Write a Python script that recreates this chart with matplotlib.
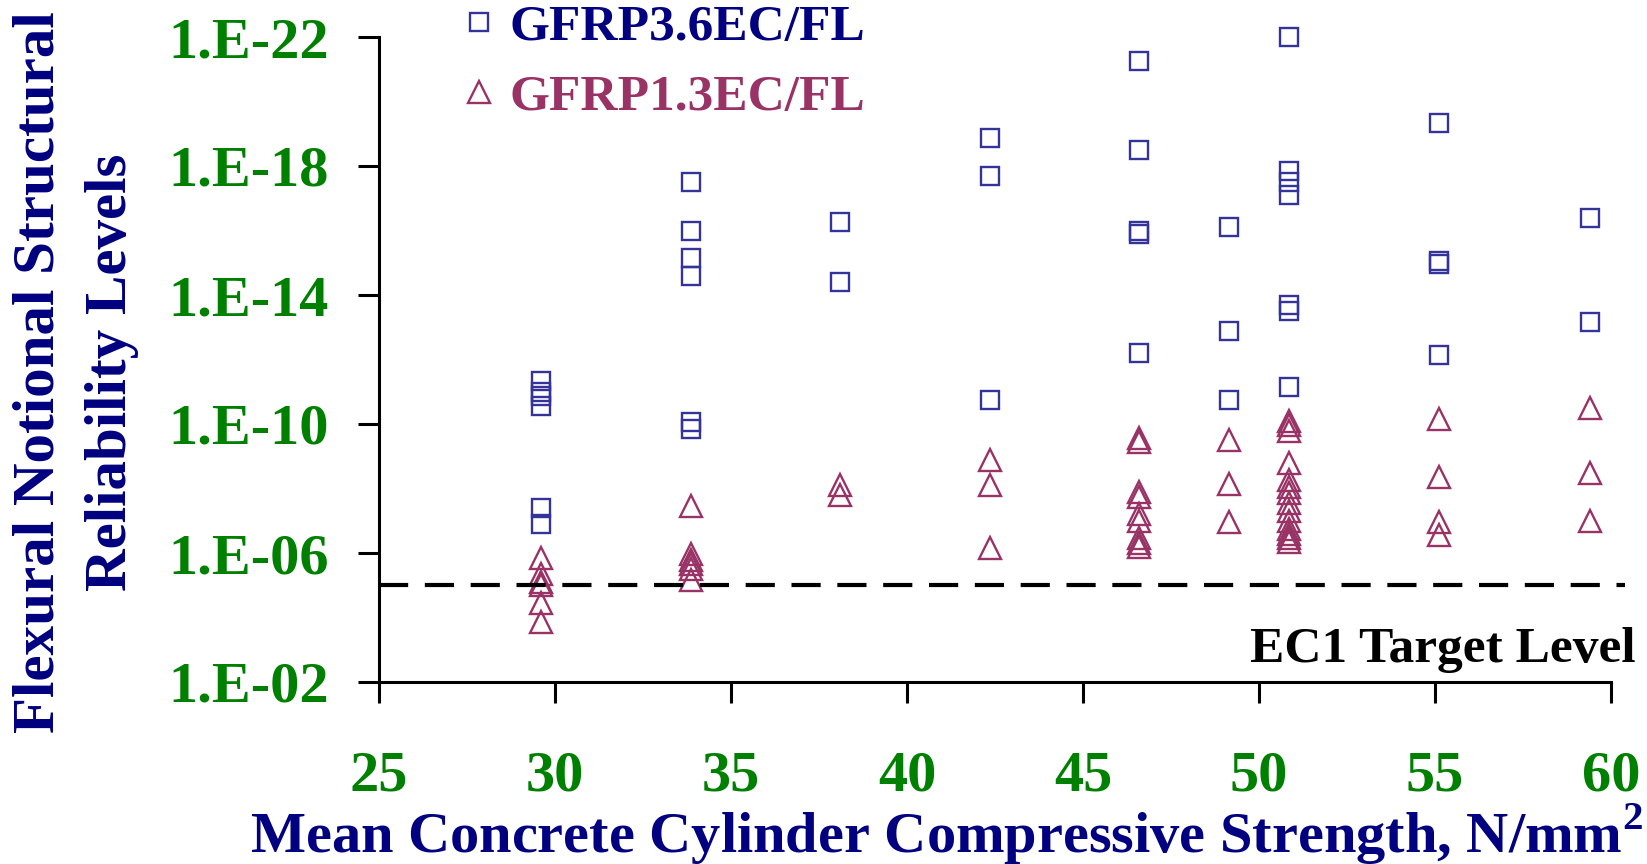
import numpy as np
import matplotlib
matplotlib.use('Agg')
import matplotlib.pyplot as plt
from matplotlib.ticker import FuncFormatter, NullLocator

# mean concrete cylinder strength (N/mm2) and notional failure probability
fcm_36 = ([29.6] * 6 + [33.85] * 6 + [38.1] * 2 + [42.35] * 3 + [46.6] * 5
          + [49.15] * 3 + [50.85] * 7 + [55.1] * 4 + [59.4] * 2)
pf_36 = [4.5e-12, 1.0e-11, 1.4e-11, 2.8e-11, 4.0e-8, 1.3e-7,
         3.2e-18, 1.0e-16, 7.1e-16, 2.5e-15, 8.9e-11, 1.4e-10,
         5.6e-17, 4.0e-15,
         1.4e-19, 2.0e-18, 1.8e-11,
         5.6e-22, 3.2e-19, 1.0e-16, 1.3e-16, 6.3e-13,
         7.9e-17, 1.3e-13, 1.8e-11,
         1.0e-22, 1.4e-18, 3.2e-18, 7.9e-18, 2.0e-14, 3.2e-14, 7.1e-12,
         4.5e-20, 8.9e-16, 1.1e-15, 7.1e-13,
         4.0e-17, 7.1e-14]

fcm_13 = ([29.6] * 6 + [33.85] * 6 + [38.1] * 2 + [42.35] * 3 + [46.6] * 9
          + [49.15] * 3 + [50.85] * 14 + [55.1] * 4 + [59.4] * 3)
pf_13 = [1.4e-6, 4.5e-6, 7.9e-6, 1.0e-5, 3.5e-5, 1.4e-4,
         3.5e-8, 1.1e-6, 1.6e-6, 2.2e-6, 3.2e-6, 7.1e-6,
         7.9e-9, 1.6e-8,
         1.3e-9, 7.9e-9, 7.1e-7,
         2.8e-10, 3.5e-10, 1.3e-8, 1.8e-8, 6.3e-8, 1.0e-7, 3.5e-7, 5.0e-7, 6.3e-7,
         3.2e-10, 7.1e-9, 1.1e-7,
         7.9e-11, 1.1e-10, 1.6e-10, 1.6e-9, 5.6e-9, 8.9e-9, 1.4e-8, 2.8e-8,
         5.0e-8, 1.0e-7, 1.8e-7, 2.5e-7, 3.5e-7, 4.5e-7,
         7.1e-11, 4.5e-9, 1.1e-7, 2.8e-7,
         3.2e-11, 3.2e-9, 1.0e-7]

target_pf = 1.0e-5
x_ticks = [25, 30, 35, 40, 45, 50, 55, 60]
y_ticks = [1e-2, 1e-6, 1e-10, 1e-14, 1e-18, 1e-22]

plt.rcParams['font.family'] = 'Liberation Serif'
plt.rcParams['font.weight'] = 'bold'
plt.rcParams['mathtext.fontset'] = 'custom'
plt.rcParams['mathtext.rm'] = 'Liberation Serif:bold'
plt.rcParams['mathtext.bf'] = 'Liberation Serif:bold'

W, H = 1647, 864
fig = plt.figure(figsize=(W / 100, H / 100), dpi=100)
ax = fig.add_axes([379 / W, 1 - 682 / H, 1232 / W, 645 / H])

ax.plot(fcm_36, pf_36, ls='none', marker='s', ms=13.5, mfc='none', mec='#333399',
        mew=1.7, label='GFRP3.6EC/FL', clip_on=False)
ax.plot(fcm_13, pf_13, ls='none', marker='^', ms=15.5, mfc='none', mec='#993366',
        mew=1.7, label='GFRP1.3EC/FL', clip_on=False)
ax.axhline(target_pf, xmin=0, xmax=1.011, color='k', lw=3, dashes=(7, 4), clip_on=False)

ax.set_yscale('log')
ax.set_ylim(1e-2, 1e-22)
ax.set_xlim(25, 60)
ax.set_yticks(y_ticks)
ax.yaxis.set_minor_locator(NullLocator())
ax.yaxis.set_major_formatter(FuncFormatter(lambda v, p: '1.E-%02d' % round(-np.log10(v))))
ax.set_xticks(x_ticks)

for s in ['top', 'right']:
    ax.spines[s].set_visible(False)
for s in ['left', 'bottom']:
    ax.spines[s].set_linewidth(2.2)
ax.tick_params(direction='out', length=15, width=2.2, color='k',
               labelcolor='#008000', labelsize=42)
ax.tick_params(axis='x', pad=34)
ax.tick_params(axis='y', pad=21)

fig.text(1636 / W, 1 - 662 / H, 'EC1 Target Level', ha='right', va='baseline',
         fontsize=37, color='k')
fig.text(76 / W, 1 - 372 / H, 'Flexural Notional Structural\nReliability Levels',
         rotation=90, ha='center', va='center', fontsize=42.5, color='#000080',
         linespacing=1.45, multialignment='center')
fig.text(946 / W, 1 - 852 / H, 'Mean Concrete Cylinder Compressive Strength, N/mm$^2$',
         ha='center', va='baseline', fontsize=42, color='#000080')

ax.legend(loc='upper left', bbox_to_anchor=(458 / W, 0.995), bbox_transform=fig.transFigure,
          frameon=False, fontsize=37, labelcolor=['#000080', '#993366'],
          handlelength=0.8, handletextpad=0.2, borderpad=0, borderaxespad=0,
          labelspacing=0.45)

fig.savefig('out.png', dpi=100)
